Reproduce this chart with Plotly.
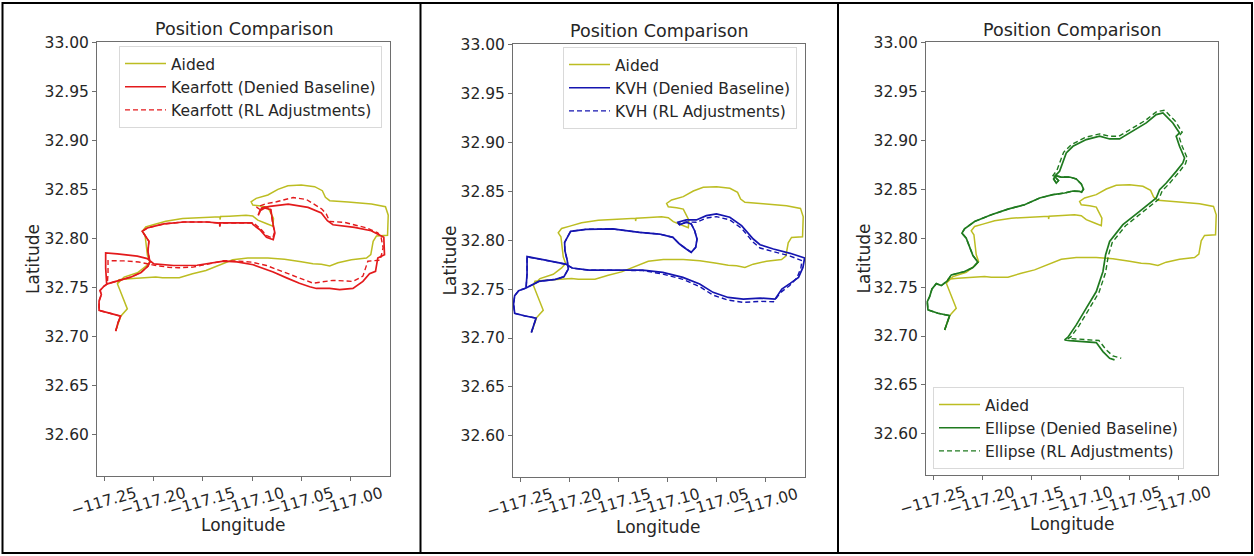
import plotly.graph_objects as go

W, H = 1254, 556

# ---------------------------------------------------------------- data
# GPS-aided reference track (shown in every panel)
aided_lon = [-117.2385, -117.2351, -117.2334, -117.2267, -117.2317, -117.2368, -117.2300, -117.2165,
             -117.2080, -117.2039, -117.2063, -117.2073, -117.2087, -117.2114, -117.2080, -117.1995,
             -117.1876, -117.1706, -117.1537, -117.1367, -117.1326, -117.1326, -117.1320, -117.1231,
             -117.1062, -117.0993, -117.0942, -117.0857, -117.0789, -117.0783, -117.0813, -117.0840,
             -117.0908, -117.0993, -117.1010, -117.0959, -117.0840, -117.0738, -117.0637, -117.0501,
             -117.0365, -117.0287, -117.0256, -117.0212, -117.0026, -116.9788, -116.9646, -116.9618,
             -116.9625, -116.9737, -116.9771, -116.9795, -116.9839, -116.9992, -117.0128, -117.0212,
             -117.0297, -117.0382, -117.0501, -117.0671, -117.0840, -117.1044, -117.1197, -117.1333,
             -117.1469, -117.1605, -117.1740, -117.1910, -117.1978, -117.2250, -117.2351, -117.2368]
aided_lat = [32.7062, 32.7147, 32.7209, 32.7284, 32.7403, 32.7540, 32.7608, 32.7652,
             32.7717, 32.7762, 32.7830, 32.7932, 32.8035, 32.8075, 32.8120, 32.8144,
             32.8178, 32.8205, 32.8215, 32.8222, 32.8224, 32.8195, 32.8225, 32.8229,
             32.8239, 32.8230, 32.8189, 32.8155, 32.8127, 32.8206, 32.8274, 32.8318,
             32.8332, 32.8342, 32.8376, 32.8411, 32.8445, 32.8503, 32.8540, 32.8547,
             32.8530, 32.8489, 32.8421, 32.8387, 32.8373, 32.8353, 32.8325, 32.8239,
             32.8035, 32.8028, 32.7973, 32.7837, 32.7803, 32.7785, 32.7755, 32.7721,
             32.7738, 32.7745, 32.7765, 32.7789, 32.7803, 32.7803, 32.7785, 32.7734,
             32.7676, 32.7642, 32.7601, 32.7601, 32.7608, 32.7591, 32.7581, 32.7540]

# Kearfott: common start + north leg, then baseline / RL-adjusted remainder
kearfott_start_lon = [-117.2385, -117.2362, -117.2335, -117.2436, -117.2554, -117.2554, -117.2531, -117.2544,
                      -117.2504, -117.2470, -117.2369, -117.2234, -117.2132, -117.2058, -117.2038, -117.2058,
                      -117.2048, -117.2099, -117.2116, -117.2065, -117.1896, -117.1694, -117.1458, -117.1330,
                      -117.1328, -117.1325, -117.1002]
kearfott_start_lat = [32.7057, 32.7142, 32.7210, 32.7234, 32.7268, 32.7363, 32.7430, 32.7471,
                      32.7515, 32.7539, 32.7566, 32.7607, 32.7651, 32.7719, 32.7763, 32.7871,
                      32.7973, 32.8041, 32.8075, 32.8109, 32.8150, 32.8170, 32.8170, 32.8158,
                      32.8125, 32.8160, 32.8160]
kearfott_base_lon = [-117.0989, -117.0921, -117.0854, -117.0786, -117.0769, -117.0786, -117.0803, -117.0810,
                     -117.0871, -117.0921, -117.0938, -117.0904, -117.0820, -117.0634, -117.0432, -117.0297,
                     -117.0236, -117.0179, -116.9960, -116.9791, -116.9663, -116.9656, -116.9724, -116.9747,
                     -116.9808, -116.9875, -116.9976, -117.0111, -117.0213, -117.0347, -117.0415, -117.0520,
                     -117.0650, -117.0786, -117.0989, -117.1154, -117.1289, -117.1559, -117.1795, -117.1997,
                     -117.2065, -117.2166, -117.2369, -117.2487, -117.2487, -117.2477]
kearfott_base_lat = [32.8142, 32.8091, 32.8013, 32.7989, 32.8057, 32.8142, 32.8227, 32.8295,
                     32.8312, 32.8285, 32.8237, 32.8312, 32.8329, 32.8352, 32.8319, 32.8261,
                     32.8183, 32.8142, 32.8115, 32.8081, 32.8013, 32.7837, 32.7803, 32.7667,
                     32.7643, 32.7564, 32.7492, 32.7481, 32.7492, 32.7492, 32.7510, 32.7545,
                     32.7600, 32.7660, 32.7734, 32.7763, 32.7770, 32.7729, 32.7726, 32.7743,
                     32.7797, 32.7821, 32.7844, 32.7854, 32.7702, 32.7539]
kearfott_rl_lon = [-117.0986, -117.0918, -117.0851, -117.0790, -117.0773, -117.0790, -117.0806, -117.0813,
                   -117.0874, -117.0924, -117.0955, -117.0854, -117.0752, -117.0584, -117.0450, -117.0381,
                   -117.0290, -117.0246, -117.0213, -117.0061, -116.9841, -116.9724, -116.9690, -116.9670,
                   -116.9700, -116.9825, -116.9875, -116.9976, -117.0179, -117.0381, -117.0516, -117.0685,
                   -117.0854, -117.1000, -117.1154, -117.1289, -117.1450, -117.1600, -117.1750, -117.1850,
                   -117.2000, -117.2150, -117.2300, -117.2463, -117.2463, -117.2470]
kearfott_rl_lat = [32.8160, 32.8105, 32.8030, 32.8005, 32.8070, 32.8150, 32.8235, 32.8300,
                   32.8322, 32.8300, 32.8322, 32.8358, 32.8376, 32.8419, 32.8400, 32.8358,
                   32.8300, 32.8250, 32.8176, 32.8166, 32.8110, 32.8060, 32.8010, 32.7907,
                   32.7781, 32.7770, 32.7618, 32.7564, 32.7575, 32.7546, 32.7600, 32.7662,
                   32.7726, 32.7760, 32.7772, 32.7775, 32.7740, 32.7710, 32.7703, 32.7708,
                   32.7730, 32.7762, 32.7773, 32.7776, 32.7650, 32.7539]

# KVH
kvh_start_lon = [-117.2388, -117.2364, -117.2340, -117.2449, -117.2558, -117.2569, -117.2558, -117.2517,
                 -117.2442, -117.2312, -117.2142, -117.2056, -117.2012, -117.2022, -117.2046, -117.2049,
                 -117.1988, -117.1834, -117.1561, -117.1288, -117.1083, -117.0946, -117.0878, -117.0810,
                 -117.0759, -117.0714, -117.0700, -117.0724, -117.0759, -117.0810, -117.0878]
kvh_start_lat = [32.7057, 32.7136, 32.7204, 32.7225, 32.7252, 32.7347, 32.7433, 32.7484,
                 32.7511, 32.7579, 32.7600, 32.7627, 32.7705, 32.7791, 32.7893, 32.7978,
                 32.8091, 32.8111, 32.8115, 32.8080, 32.8063, 32.8029, 32.7961, 32.7910,
                 32.7876, 32.7927, 32.8012, 32.8097, 32.8166, 32.8183, 32.8159]
kvh_base_lon = [-117.0895, -117.0810, -117.0707, -117.0605, -117.0502, -117.0366, -117.0246, -117.0127,
                -117.0058, -116.9922, -116.9751, -116.9604, -116.9621, -116.9666, -116.9751, -116.9836,
                -116.9905, -117.0058, -117.0229, -117.0383, -117.0537, -117.0673, -117.0844, -117.1049,
                -117.1254, -117.1527, -117.1800, -117.1971, -117.2039, -117.2244, -117.2432, -117.2432,
                -117.2442]
kvh_base_lat = [32.8183, 32.8207, 32.8207, 32.8251, 32.8268, 32.8234, 32.8149, 32.8012,
                32.7954, 32.7910, 32.7866, 32.7818, 32.7722, 32.7620, 32.7559, 32.7501,
                32.7398, 32.7409, 32.7398, 32.7415, 32.7467, 32.7552, 32.7620, 32.7671,
                32.7695, 32.7695, 32.7695, 32.7716, 32.7756, 32.7797, 32.7832, 32.7654,
                32.7511]
kvh_rl_lon = [-117.0895, -117.0810, -117.0707, -117.0605, -117.0502, -117.0366, -117.0246, -117.0127,
              -117.0058, -116.9922, -116.9751, -116.9631, -116.9642, -116.9683, -116.9758, -116.9847,
              -116.9922, -117.0058, -117.0229, -117.0383, -117.0537, -117.0673, -117.0844, -117.1049,
              -117.1254, -117.1527, -117.1800, -117.1971, -117.2039, -117.2244, -117.2432, -117.2432,
              -117.2442]
kvh_rl_lat = [32.8173, 32.8186, 32.8183, 32.8227, 32.8241, 32.8207, 32.8121, 32.7978,
              32.7920, 32.7883, 32.7838, 32.7791, 32.7716, 32.7613, 32.7535, 32.7467,
              32.7371, 32.7375, 32.7364, 32.7388, 32.7439, 32.7525, 32.7600, 32.7654,
              32.7690, 32.7692, 32.7693, 32.7714, 32.7754, 32.7795, 32.7830, 32.7654,
              32.7511]

# Ellipse
ellipse_start_lon = [-117.2385, -117.2358, -117.2334, -117.2453, -117.2555, -117.2562, -117.2538, -117.2514,
                     -117.2470, -117.2419, -117.2358, -117.2317, -117.2182, -117.2097, -117.2046, -117.2097,
                     -117.2131, -117.2165, -117.2209, -117.2182, -117.2080, -117.1910, -117.1740, -117.1571,
                     -117.1417, -117.1282, -117.1163, -117.1078, -117.1010, -117.0990, -117.0970, -117.0993,
                     -117.1044, -117.1112, -117.1197, -117.1255, -117.1275, -117.1248, -117.1225, -117.1265]
ellipse_start_lat = [32.7062, 32.7147, 32.7209, 32.7233, 32.7267, 32.7352, 32.7403, 32.7482,
                     32.7536, 32.7516, 32.7564, 32.7625, 32.7659, 32.7700, 32.7755, 32.7823,
                     32.7915, 32.8000, 32.8052, 32.8096, 32.8171, 32.8239, 32.8297, 32.8342,
                     32.8411, 32.8445, 32.8462, 32.8482, 32.8478, 32.8470, 32.8502, 32.8554,
                     32.8605, 32.8625, 32.8625, 32.8639, 32.8605, 32.8564, 32.8590, 32.8632]
ellipse_base_lon = [-117.1214, -117.1180, -117.1146, -117.1078, -117.0942, -117.0806, -117.0704, -117.0603,
                    -117.0501, -117.0331, -117.0229, -117.0161, -117.0060, -116.9992, -117.0026, -116.9992,
                    -116.9941, -116.9958, -117.0026, -117.0127, -117.0195, -117.0229, -117.0399, -117.0569,
                    -117.0704, -117.0745, -117.0772, -117.0840, -117.0942, -117.1044, -117.1129, -117.1163,
                    -117.1112, -117.0942, -117.0840, -117.0772, -117.0704, -117.0654]
ellipse_base_lat = [32.8683, 32.8769, 32.8871, 32.8939, 32.9008, 32.9042, 32.9014, 32.9014,
                    32.9076, 32.9178, 32.9263, 32.9281, 32.9178, 32.9076, 32.9042, 32.8939,
                    32.8820, 32.8769, 32.8683, 32.8564, 32.8496, 32.8411, 32.8274, 32.8138,
                    32.7967, 32.7831, 32.7660, 32.7455, 32.7285, 32.7114, 32.6988, 32.6961,
                    32.6954, 32.6943, 32.6933, 32.6841, 32.6773, 32.6756]
ellipse_rl_lon = [-117.1282, -117.1241, -117.1207, -117.1173, -117.1095, -117.0949, -117.0806, -117.0704,
                  -117.0609, -117.0508, -117.0338, -117.0229, -117.0144, -117.0032, -116.9965, -116.9999,
                  -116.9965, -116.9914, -116.9931, -116.9999, -117.0100, -117.0168, -117.0202, -117.0372,
                  -117.0542, -117.0677, -117.0718, -117.0745, -117.0813, -117.0915, -117.1017, -117.1102,
                  -117.1129, -117.1095, -117.0925, -117.0813, -117.0738, -117.0671, -117.0586]
ellipse_rl_lat = [32.8639, 32.8694, 32.8776, 32.8878, 32.8956, 32.9031, 32.9066, 32.9042,
                  32.9042, 32.9103, 32.9205, 32.9291, 32.9308, 32.9192, 32.9083, 32.9042,
                  32.8939, 32.8820, 32.8762, 32.8673, 32.8554, 32.8486, 32.8400, 32.8264,
                  32.8127, 32.7957, 32.7820, 32.7650, 32.7445, 32.7274, 32.7104, 32.6988,
                  32.6974, 32.6974, 32.6964, 32.6954, 32.6858, 32.6797, 32.6773]

lon_ticks = [-117.25, -117.20, -117.15, -117.10, -117.05, -117.00]
lon_tick_text = ["\u2212117.25", "\u2212117.20", "\u2212117.15", "\u2212117.10", "\u2212117.05", "\u2212117.00"]
lat_ticks = [32.60, 32.65, 32.70, 32.75, 32.80, 32.85, 32.90, 32.95, 33.00]
lat_tick_text = ["32.60", "32.65", "32.70", "32.75", "32.80", "32.85", "32.90", "32.95", "33.00"]

# ---------------------------------------------------------------- styling
FONT = "DejaVu Sans"
TXT = "#262626"
AIDED_COLOR = "#bcbd22"


def px(x):
    return x / W


def py(y):
    return 1 - y / H


panels = [
    dict(name="Kearfott", color="#e31a1c",
         base=(kearfott_start_lon + kearfott_base_lon, kearfott_start_lat + kearfott_base_lat),
         rl=(kearfott_start_lon + kearfott_rl_lon, kearfott_start_lat + kearfott_rl_lat),
         box=(97, 390, 42, 476), ylab_x=33, title_y=29, xlab_y=525,
         legend=dict(x=px(382), y=py(46), xanchor="right", yanchor="top")),
    dict(name="KVH", color="#1515b0",
         base=(kvh_start_lon + kvh_base_lon, kvh_start_lat + kvh_base_lat),
         rl=(kvh_start_lon + kvh_rl_lon, kvh_start_lat + kvh_rl_lat),
         box=(513, 805, 44, 477), ylab_x=449, title_y=31, xlab_y=527,
         legend=dict(x=px(797), y=py(47), xanchor="right", yanchor="top")),
    dict(name="Ellipse", color="#1f7a1f",
         base=(ellipse_start_lon + ellipse_base_lon, ellipse_start_lat + ellipse_base_lat),
         rl=(ellipse_start_lon + ellipse_rl_lon, ellipse_start_lat + ellipse_rl_lat),
         box=(926, 1218, 42, 475), ylab_x=863, title_y=30, xlab_y=524,
         legend=dict(x=px(933), y=py(469), xanchor="left", yanchor="bottom")),
]

fig = go.Figure()
layout = dict(width=W, height=H, margin=dict(l=0, r=0, t=0, b=0, autoexpand=False),
              paper_bgcolor="white", plot_bgcolor="white", showlegend=True,
              font=dict(family=FONT, color=TXT))
annotations = []

for i, p in enumerate(panels, start=1):
    sfx = "" if i == 1 else str(i)
    xa, ya = "x" + sfx, "y" + sfx
    lg = "legend" + sfx
    common = dict(xaxis=xa, yaxis=ya, legend=lg, mode="lines", hoverinfo="skip")
    fig.add_trace(go.Scatter(x=aided_lon, y=aided_lat, name="Aided", legendgroup=f"a{i}",
                             line=dict(color=AIDED_COLOR, width=1.5), **common))
    fig.add_trace(go.Scatter(x=p["base"][0], y=p["base"][1], name=f"{p['name']} (Denied Baseline)",
                             legendgroup=f"b{i}", line=dict(color=p["color"], width=1.7), **common))
    fig.add_trace(go.Scatter(x=p["rl"][0], y=p["rl"][1], name=f"{p['name']} (RL Adjustments)",
                             legendgroup=f"c{i}", line=dict(color=p["color"], width=1.4, dash="5px,3px"),
                             **common))

    l, r, t, b = p["box"]
    axis_common = dict(showline=True, mirror=True, linecolor="#6e6e6e", linewidth=1,
                       ticks="outside", ticklen=4, tickcolor="#6e6e6e", showgrid=False,
                       zeroline=False, automargin=False,
                       tickfont=dict(family=FONT, size=15.5, color=TXT))
    layout["xaxis" + sfx] = dict(domain=[px(l), px(r)], anchor=ya, range=[-117.2575, -116.9600],
                                 tickvals=lon_ticks, ticktext=lon_tick_text, tickangle=-16,
                                 ticklabelshift=31, ticklabelstandoff=-2, **axis_common)
    layout["yaxis" + sfx] = dict(domain=[py(b), py(t)], anchor=xa, range=[32.558, 33.0005],
                                 tickvals=lat_ticks, ticktext=lat_tick_text, **axis_common)
    layout[lg] = dict(bgcolor="rgba(255,255,255,0.85)", bordercolor="#d9d9d9", borderwidth=1,
                      font=dict(family=FONT, size=15.5, color=TXT), tracegroupgap=0,
                      itemwidth=41, **p["legend"])

    cx = (l + r) / 2
    annotations += [
        dict(text="Position Comparison", x=px(cx), y=py(p["title_y"]), xref="paper", yref="paper",
             showarrow=False, font=dict(size=17.5, color=TXT), xanchor="center", yanchor="middle"),
        dict(text="Longitude", x=px(cx), y=py(p["xlab_y"]), xref="paper", yref="paper",
             showarrow=False, font=dict(size=17, color=TXT), xanchor="center", yanchor="middle"),
        dict(text="Latitude", x=px(p["ylab_x"]), y=py((t + b) / 2), xref="paper", yref="paper",
             showarrow=False, textangle=-90, font=dict(size=17, color=TXT),
             xanchor="center", yanchor="middle"),
    ]

# table-style frame around the three panels
shapes = [dict(type="rect", xref="paper", yref="paper", x0=px(2.5), x1=px(1252), y0=py(553), y1=py(3),
               line=dict(color="black", width=2))]
for xv in (420.5, 838):
    shapes.append(dict(type="line", xref="paper", yref="paper", x0=px(xv), x1=px(xv), y0=py(553), y1=py(3),
                       line=dict(color="black", width=2)))

layout["annotations"] = annotations
layout["shapes"] = shapes
fig.update_layout(**layout)
fig.write_html("out.html")
